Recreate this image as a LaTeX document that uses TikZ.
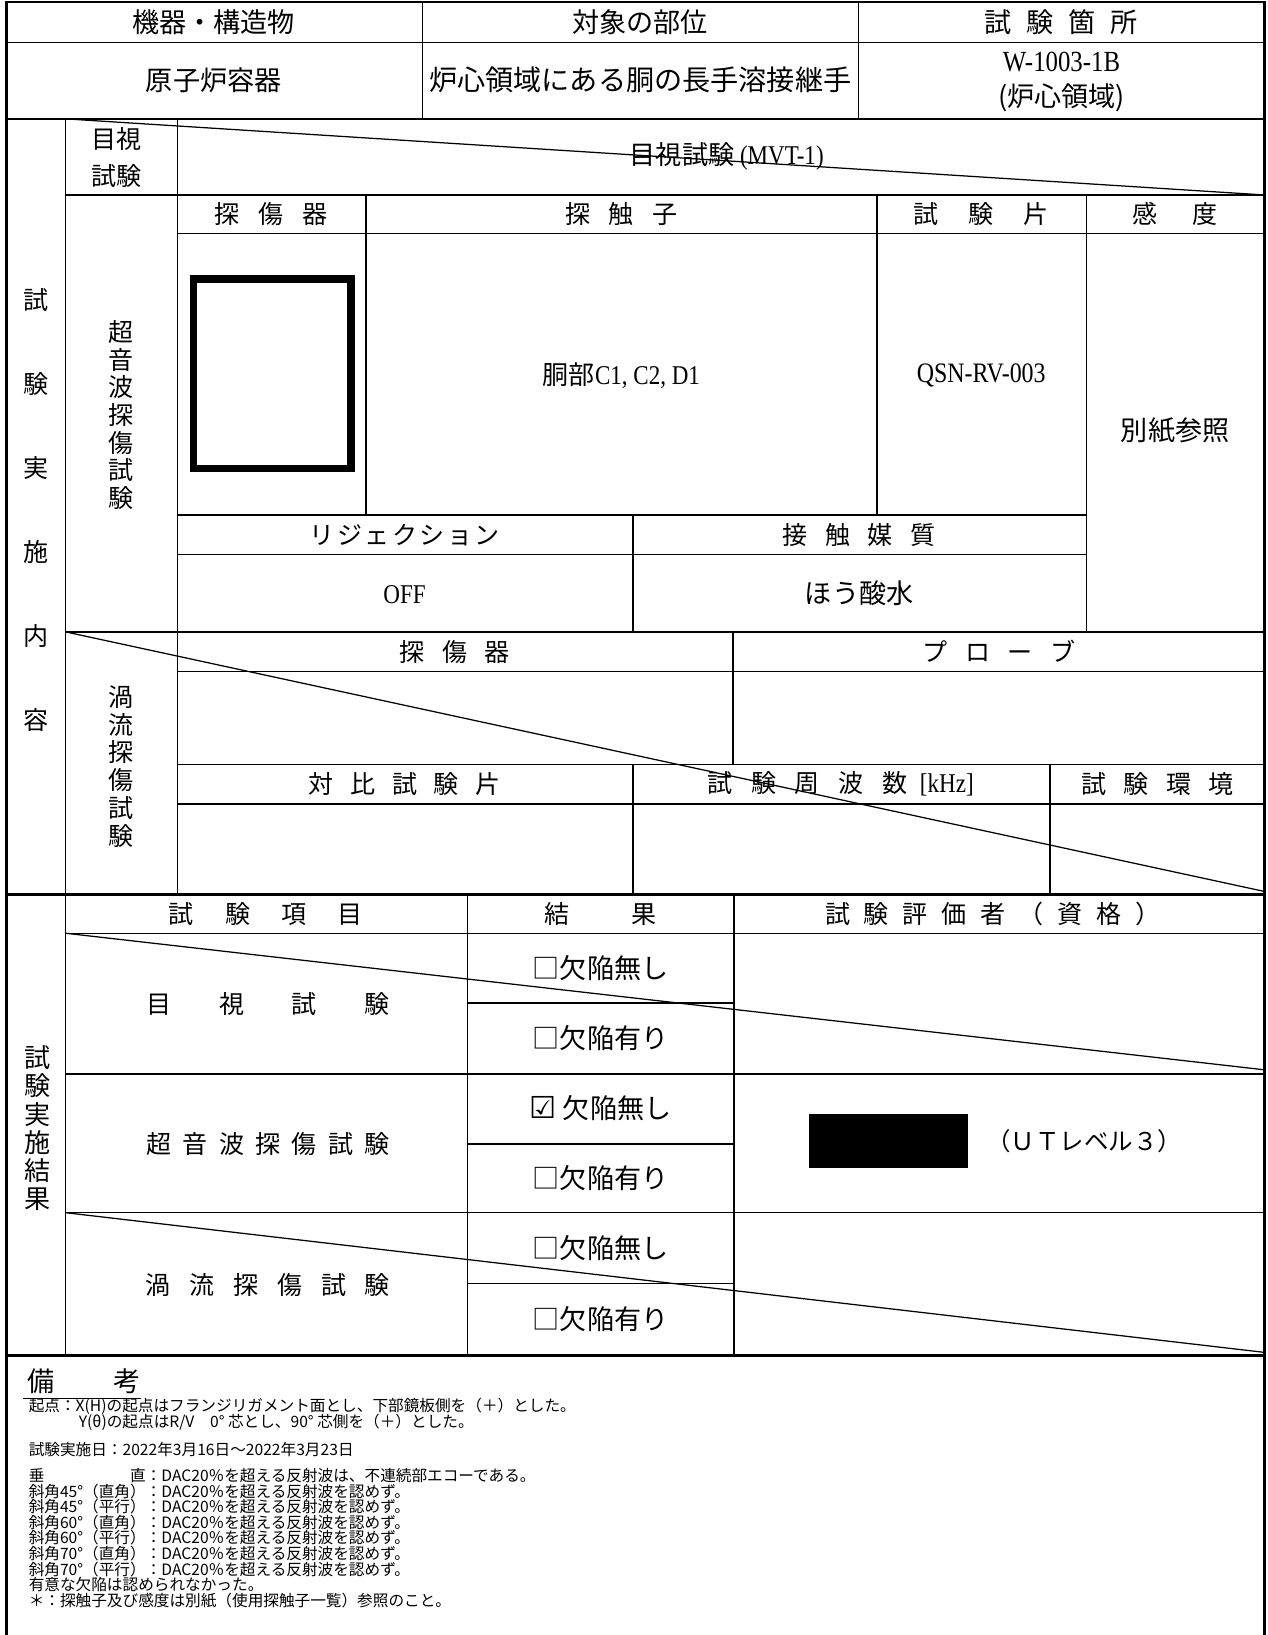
\documentclass[tikz,border=0pt]{standalone}
\usepackage{fontspec}
\usepackage{tikz}
\setmainfont{Noto Sans CJK JP}
\newfontfamily\lat[FakeStretch=0.85]{Liberation Serif}
\newfontfamily\sym{DejaVu Sans}
\newcommand{\fsz}[1]{\fontsize{#1}{#1}\selectfont}
\newcommand{\spaced}[2]{\def\spgap{\hspace{#1}}\spacedi#2\relax}
\def\spacedi#1#2{#1\ifx#2\relax\else\spgap\expandafter\spacedi\expandafter#2\fi}
\newlength\remw

\begin{document}
\begin{tikzpicture}[x=1pt, y=-1pt, line width=1.2pt,
    every node/.style={inner sep=0pt},
    sepline/.style={line width=2.6pt},
    lbl/.style={font=\fsz{24}},
    hd/.style={font=\fsz{26}},
    chk/.style={font=\fsz{26}},
    rem/.style={anchor=west, font=\fsz{15}}]
    \useasboundingbox (0,0) rectangle (1216,1568);

    % frame
    \draw[sepline] (6,1568) -- (6,2) -- (1213,2) -- (1213,1568);
    \draw (6,41) -- (1213,41);
    \draw (405,2) -- (405,114) (823,2) -- (823,114);
    \draw[sepline] (6,114) -- (1213,114);
    \draw[sepline] (6,858) -- (1213,858);
    \draw[sepline] (6,1300) -- (1213,1300);

    % test contents
    \draw (63,114) -- (63,1300);
    \draw (170,114) -- (170,858);
    \draw (63,187) -- (1213,187);
    \draw (63,114) -- (1213,187);

    \draw (170,224) -- (1213,224);
    \draw (351,187) -- (351,494);
    \draw (841,187) -- (841,494);
    \draw (1042,187) -- (1042,606);
    \draw (170,494) -- (1042,494);
    \draw (170,532) -- (1042,532);
    \draw (607,494) -- (607,606);
    \draw (63,606) -- (1213,606);

    \draw (170,644) -- (1213,644);
    \draw (703,606) -- (703,733);
    \draw (170,733) -- (1213,733);
    \draw (170,771) -- (1213,771);
    \draw (607,733) -- (607,858);
    \draw (1007,733) -- (1007,858);
    \draw (63,606) -- (1213,855);

    % results
    \draw (63,895) -- (1213,895);
    \draw (448,858) -- (448,1300);
    \draw (704,858) -- (704,1300);
    \draw (63,1030) -- (1213,1030);
    \draw (63,1163) -- (1213,1163);
    \draw (448,962) -- (704,962) (448,1097) -- (704,1097) (448,1231) -- (704,1231);
    \draw (63,895) -- (1213,1026);
    \draw (63,1163) -- (1213,1297);

    % header
    \node[hd] (kiki) at (205,21) {機器・構造物};
    \node[hd] (taisho) at (614,21) {対象の部位};
    \node[hd] (kasho) at (1018,21) {\spaced{.55em}{試験箇所}};
    \node[hd] (genshiro) at (205,77) {原子炉容器};
    \node[hd, font=\fsz{27}] (bui) at (614,77) {炉心領域にある胴の長手溶接継手};
    \node[hd] (wno) at (1018,59) {\lat\fsz{28}W-1003-1B};
    \node[hd] (ryoiki) at (1018,94) {(炉心領域)};

    \node[align=center, font={\fontsize{24}{80.5}\selectfont}] (naiyo) at (35,489) {試\\験\\実\\施\\内\\容};

    % visual
    \node[align=center, font={\fontsize{24}{35}\selectfont}] (mokushi) at (112,151) {目視\\試験};
    \node[lbl, font=\fsz{25}] (mvt) at (697,150) {目視試験 {\lat\fsz{26}(MVT-1)}};

    % ultrasonic
    \node[align=center, font={\fontsize{24}{26.5}\selectfont}] (utlbl) at (116,398) {超\\音\\波\\探\\傷\\試\\験};
    \node[lbl] (uth1) at (260,205) {\spaced{.75em}{探傷器}};
    \node[lbl] (uth2) at (596,205) {\spaced{.75em}{探触子}};
    \node[lbl] (uth3) at (941,205) {\spaced{1.2em}{試験片}};
    \node[lbl] (uth4) at (1127,205) {\spaced{1.4em}{感度}};
    \draw[line width=7pt] (185.5,267.5) rectangle (336.5,449.5);
    \node[lbl, font=\fsz{25}] (probe) at (596,360) {胴部{\lat\fsz{26}C1, C2, D1}};
    \node[lbl] (piece) at (941,360) {\lat\fsz{27}QSN-RV-003};
    \node[lbl, font=\fsz{26}] (kando) at (1127,413) {別紙参照};
    \node[lbl] (reject) at (388,513) {\spaced{.1em}{リジェクション}};
    \node[lbl] (baishitsu) at (824,513) {\spaced{.7em}{接触媒質}};
    \node[lbl] (off) at (388,570) {\lat\fsz{26}OFF};
    \node[lbl, font=\fsz{26}] (housansui) at (824,569) {ほう酸水};

    % eddy current
    \node[align=center, font={\fontsize{24}{26.6}\selectfont}] (ectlbl) at (116,735) {渦\\流\\探\\傷\\試\\験};
    \node[lbl] (ecth1) at (436,625) {\spaced{.7em}{探傷器}};
    \node[lbl] (ecth2) at (958,625) {\spaced{.7em}{プローブ}};
    \node[lbl] (ecth3) at (388,752) {\spaced{.67em}{対比試験片}};
    \node[lbl] (ecth4) at (806,752) {\spaced{.75em}{試験周波数}\hspace{.5em}{\lat\fsz{26}[kHz]}};
    \node[lbl] (ecth5) at (1110,752) {\spaced{.7em}{試験環境}};

    % results
    \node[align=center, font={\fontsize{25}{27}\selectfont}] (kekka) at (36,1082) {試\\験\\実\\施\\結\\果};
    \node[lbl] (rh1) at (255,877) {\spaced{1.25em}{試験項目}};
    \node[lbl] (rh2) at (576,877) {\spaced{2.5em}{結果}};
    \node[lbl] (rh3) at (952,877) {\spaced{.55em}{試験評価者（資格）}};
    \node[lbl] (r1) at (257,963) {\spaced{1.9em}{目視試験}};
    \node[lbl] (r2) at (257,1097) {\spaced{.45em}{超音波探傷試験}};
    \node[lbl] (r3) at (257,1232) {\spaced{.75em}{渦流探傷試験}};
    \node[chk] (vt1) at (576,928) {□欠陥無し};
    \node[chk] (vt2) at (576,996) {□欠陥有り};
    \node[chk] (ut1) at (576,1063) {{\sym\fsz{29}☑} 欠陥無し};
    \node[chk] (ut2) at (576,1130) {□欠陥有り};
    \node[chk] (et1) at (576,1197) {□欠陥無し};
    \node[chk] (et2) at (576,1265) {□欠陥有り};
    \fill (776,1068) rectangle (928,1120);
    \node[lbl, font=\fsz{23.5}] (level) at (1040,1094) {（ＵＴレベル３）};

    % remarks
    \node[anchor=west, font=\fsz{26}] (biko) at (26,1325) {備\hspace{2.15em}考};
    \draw (22,1341) -- (135,1341);
    \node[rem] (rem1) at (27,1349) {起点：X(H)の起点はフランジリガメント面とし、下部鏡板側を（＋）とした。};
    \node[rem] (rem2) at (75,1364) {Y(θ)の起点はR/V\hspace{1em}0° 芯とし、90° 芯側を（＋）とした。};
    \node[rem] (rem3) at (27,1390) {試験実施日：2022年3月16日～2022年3月23日};
    \node[rem] (rem4) at (27,1415) {\settowidth{\remw}{斜角45°（直角）}\makebox[\remw][s]{垂\hfill 直}：DAC20％を超える反射波は、不連続部エコーである。};
    \node[rem] (rem5) at (27,1430) {斜角45°（直角）：DAC20％を超える反射波を認めず。};
    \node[rem] (rem6) at (27,1445) {斜角45°（平行）：DAC20％を超える反射波を認めず。};
    \node[rem] (rem7) at (27,1460) {斜角60°（直角）：DAC20％を超える反射波を認めず。};
    \node[rem] (rem8) at (27,1475) {斜角60°（平行）：DAC20％を超える反射波を認めず。};
    \node[rem] (rem9) at (27,1490) {斜角70°（直角）：DAC20％を超える反射波を認めず。};
    \node[rem] (rem10) at (27,1505) {斜角70°（平行）：DAC20％を超える反射波を認めず。};
    \node[rem] (rem11) at (27,1520) {有意な欠陥は認められなかった。};
    \node[rem] (rem12) at (27,1535) {＊：探触子及び感度は別紙（使用探触子一覧）参照のこと。};
\end{tikzpicture}
\end{document}
